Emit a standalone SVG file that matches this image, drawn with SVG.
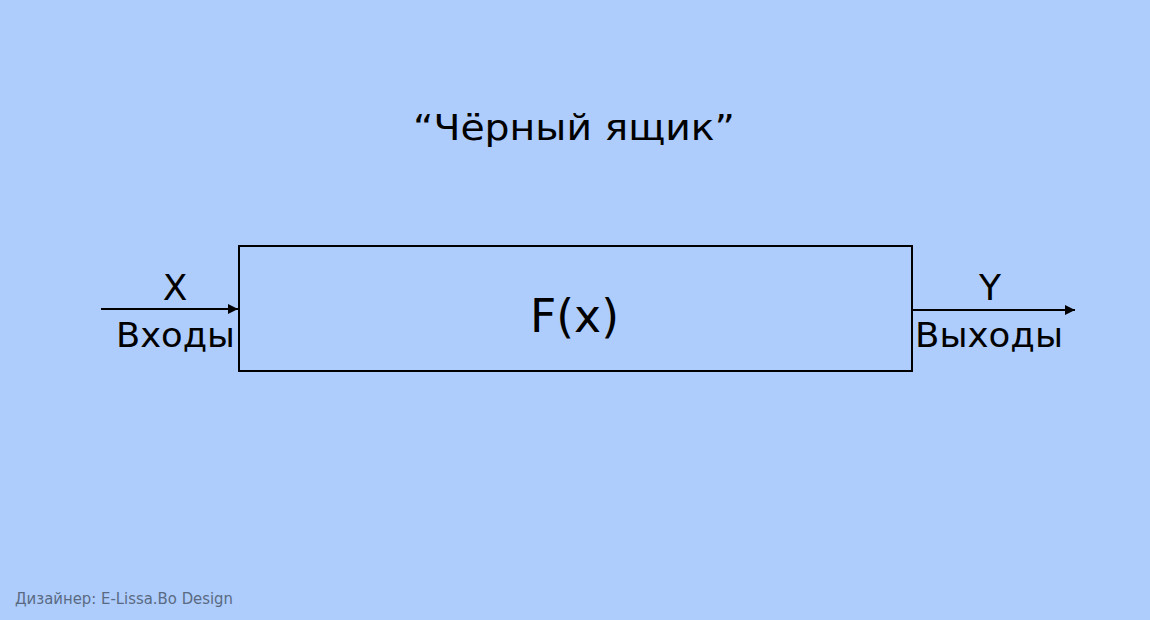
<svg xmlns="http://www.w3.org/2000/svg" width="1150" height="620" viewBox="0 0 1150 620">
<style>
text{font-family:"DejaVu Sans","Noto Sans",sans-serif;fill:#000}
.lbl{font-size:33px}
.var{font-size:36px}
.conn{stroke:#000;stroke-width:2;fill:none}
</style>
<defs>
<marker id="arr" viewBox="0 0 10 10" refX="10" refY="5" markerWidth="10" markerHeight="10" markerUnits="userSpaceOnUse" orient="auto">
<path d="M0,0 L10,5 L0,10 Z" fill="#000"/>
</marker>
</defs>
<rect width="1150" height="620" fill="#AECDFD"/>
<g id="title"><text x="413" y="140" font-size="36" textLength="322" lengthAdjust="spacingAndGlyphs">“Чёрный ящик”</text></g>
<g id="box">
<rect x="239" y="246" width="673" height="125" fill="none" stroke="#000" stroke-width="2"/>
<text x="530" y="332" font-size="47" textLength="89" lengthAdjust="spacingAndGlyphs">F(x)</text>
</g>
<g id="input">
<text x="175" y="300" text-anchor="middle" class="var">X</text>
<text x="116" y="347" class="lbl" textLength="119" lengthAdjust="spacingAndGlyphs">Входы</text>
</g>
<g id="output">
<text x="990" y="300" text-anchor="middle" class="var">Y</text>
<text x="915" y="347" class="lbl" textLength="148" lengthAdjust="spacingAndGlyphs">Выходы</text>
</g>
<g id="connectors">
<line class="conn" x1="101" y1="309" x2="238" y2="309" marker-end="url(#arr)"/>
<line class="conn" x1="913" y1="310" x2="1075" y2="310" marker-end="url(#arr)"/>
</g>
<text x="15" y="604" font-size="15" style="fill:#5A6A82" textLength="218" lengthAdjust="spacingAndGlyphs">Дизайнер: E-Lissa.Bo Design</text>
</svg>
